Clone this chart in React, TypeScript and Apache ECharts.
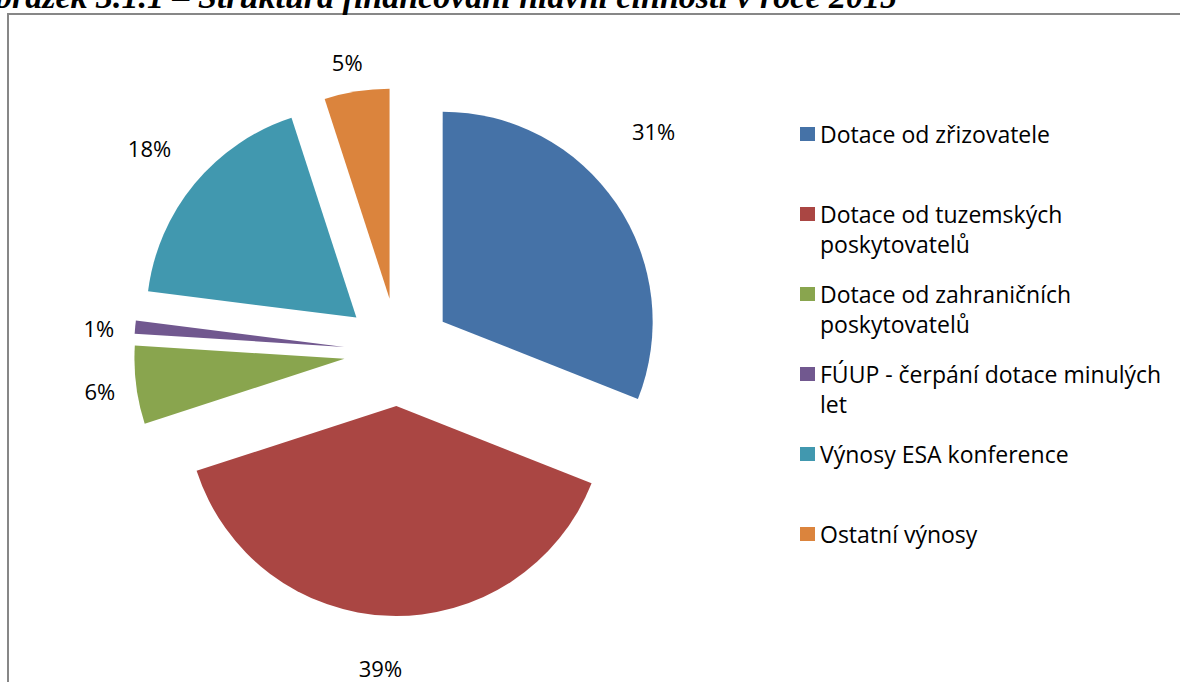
import React, { useEffect, useRef } from "react";
import * as echarts from "echarts";

const titleText = "Obrázek 3.1.1 – Struktura financování hlavní činnosti v roce 2015";
const categories = [
  "Dotace od zřizovatele",
  "Dotace od tuzemských poskytovatelů",
  "Dotace od zahraničních poskytovatelů",
  "FÚUP - čerpání dotace minulých let",
  "Výnosy ESA konference",
  "Ostatní výnosy",
];
const shares = [31, 39, 6, 1, 18, 5];
const colors = ["#4572A7", "#AA4643", "#89A54E", "#71588F", "#4198AF", "#DB843D"];
const labelNudges: [number, number][] = [
  [-6, -61],
  [18, 32],
  [4, 3],
  [4, 3],
  [-3, -23],
  [14, -9],
];

// Legend text: a blank first line, then the name wrapped to at most two lines,
// so that the square sits beside the first line of every entry.
function wrap(name: string, max = 30): string {
  const words = name.split(" ");
  const lines: string[] = [];
  let cur = "";
  for (const w of words) {
    const next = cur ? cur + " " + w : w;
    if (next.length > max && cur) {
      lines.push(cur);
      cur = w;
    } else {
      cur = next;
    }
  }
  if (cur) lines.push(cur);
  if (lines.length < 2) lines.push(" ");
  return [" ", ...lines].join("\n");
}

export default function App() {
  const ref = useRef<HTMLDivElement>(null);
  useEffect(() => {
    if (!ref.current) return;
    const chart = echarts.init(ref.current, undefined, { renderer: "svg" });
    chart.setOption({
      animation: false,
      backgroundColor: "#ffffff",
      graphic: [
        {
          type: "rect",
          silent: true,
          shape: { x: 8, y: 14, width: 1200, height: 700 },
          style: { fill: "none", stroke: "#878787", lineWidth: 2 },
        },
        {
          type: "text",
          silent: true,
          x: 897,
          y: -3.5,
          style: {
            text: titleText,
            fontFamily: "Liberation Serif",
            fontWeight: "bold",
            fontStyle: "italic",
            fontSize: 34,
            fill: "#000",
            align: "right",
            verticalAlign: "middle",
          },
        },
      ],
      legend: {
        orient: "vertical",
        left: 800,
        top: 89,
        padding: 0,
        itemWidth: 15,
        itemHeight: 14,
        itemGap: -10,
        icon: "rect",
        selectedMode: false,
        formatter: (n: string) => wrap(n),
        textStyle: {
          fontFamily: "Open Sans",
          fontSize: 23,
          color: "#000",
          lineHeight: 30,
        },
        data: categories,
      },
      series: [
        {
          type: "pie",
          center: [398, 352],
          radius: 210,
          startAngle: 90,
          clockwise: true,
          selectedMode: "multiple",
          selectedOffset: 54,
          avoidLabelOverlap: false,
          percentPrecision: 0,
          emphasis: { disabled: true },
          label: {
            show: true,
            position: "outside",
            formatter: "{d}%",
            fontFamily: "Open Sans",
            fontSize: 22,
            color: "#000",
            distanceToLabelLine: 5,
          },
          labelLine: { show: false, length: 20, length2: 0 },
          labelLayout: (p: any) => ({
            dx: labelNudges[p.dataIndex][0],
            dy: labelNudges[p.dataIndex][1],
          }),
          itemStyle: { borderWidth: 0 },
          data: categories.map((n, i) => ({
            name: n,
            value: shares[i],
            selected: true,
            itemStyle: { color: colors[i] },
          })),
        },
      ],
    });
    return () => chart.dispose();
  }, []);
  return (
    <div
      ref={ref}
      style={{ position: "fixed", left: 0, top: 0, width: 1180, height: 682, background: "#fff" }}
    />
  );
}
